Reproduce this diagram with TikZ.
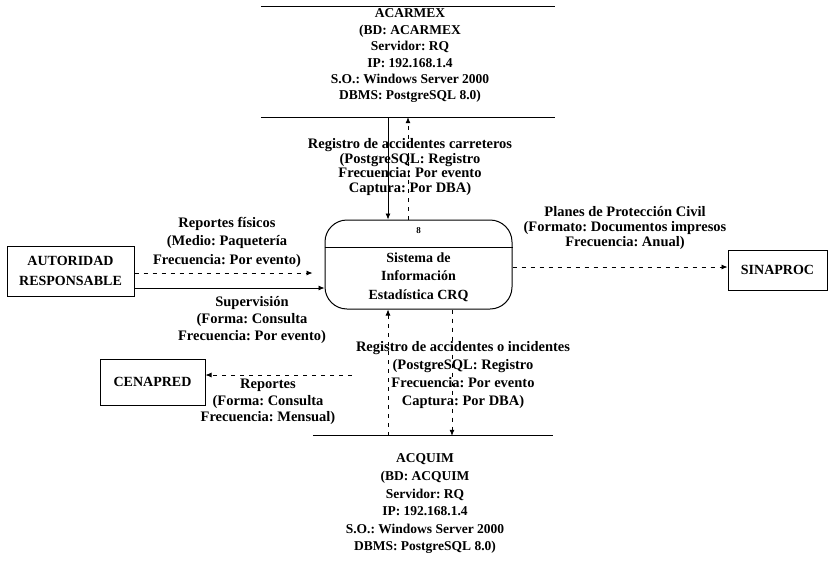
\documentclass[tikz,border=0pt]{standalone}
\usepackage{fontspec}
\setmainfont{Liberation Serif}
\usetikzlibrary{arrows.meta}
\frenchspacing
\begin{document}
\begin{tikzpicture}[x=1pt,y=-1pt,
  lbl/.style={align=center, inner sep=0pt, font=\bfseries\fontsize{14.5}{#1}\selectfont},
  lbl/.default=17,
  storetxt/.style={align=center, inner sep=0pt, font=\bfseries\fontsize{13.5}{#1}\selectfont},
  storetxt/.default=17,
  entity/.style={draw, line width=1pt, align=center, inner sep=0pt,
    font=\bfseries\fontsize{14}{20}\selectfont},
  proc/.style={draw, line width=1pt, rounded corners=22pt, align=center,
    minimum width=187pt, minimum height=89pt, inner sep=0pt,
    font=\bfseries\fontsize{14}{18.5}\selectfont},
  store/.style={inner sep=0pt},
  flow/.style={draw, line width=0.8pt, -{Latex[length=6pt,width=5pt]}},
  dflow/.style={flow, dash pattern=on 4pt off 5pt},
]
\useasboundingbox (0,0) rectangle (829,570);

% process
\node[proc] (proc) at (418.5,264.5)
  {{\fontsize{9}{10}\selectfont 8}\\[10pt]Sistema de\\Información\\Estadística CRQ};
\draw[line width=1pt] ([yshift=-28pt]proc.north west) -- ([yshift=-28pt]proc.north east);

% external entities
\node[entity, minimum width=127pt, minimum height=50pt] (aut) at (70.5,271)
  {AUTORIDAD\\RESPONSABLE};
\node[entity, minimum width=99pt, minimum height=40pt] (sin) at (777.5,270) {SINAPROC};
\node[entity, minimum width=105pt, minimum height=46pt] (cen) at (152.5,382) {CENAPRED};

% data stores
\node[store, minimum width=294pt, minimum height=110pt] (ts) at (408,62) {};
\draw[line width=0.8pt] (ts.north west) -- (ts.north east);
\draw[line width=0.8pt] (ts.south west) -- (ts.south east);
\node[storetxt=16.4] (tstext) at (410,56)
  {ACARMEX\\(BD: ACARMEX\\Servidor: RQ\\IP: 192.168.1.4\\S.O.: Windows Server 2000\\DBMS: PostgreSQL 8.0)};

\node[store, minimum width=240pt, minimum height=136pt] (bs) at (433,504) {};
\draw[line width=0.8pt] (bs.north west) -- (bs.north east);
\node[storetxt=17.6] (bstext) at (425,504)
  {ACQUIM\\(BD: ACQUIM\\Servidor: RQ\\IP: 192.168.1.4\\S.O.: Windows Server 2000\\DBMS: PostgreSQL 8.0)};

% data flows
\draw[flow] ([xshift=-20pt]ts.south) -- ([xshift=-20pt]ts.south |- proc.north);
\draw[dflow] (ts.south |- proc.north) -- (ts.south);
\draw[dflow, shorten >=12pt] ([yshift=-2pt]aut.east) -- ([yshift=-2pt]aut.east -| proc.west);
\draw[flow] ([yshift=-17pt]aut.east) -- ([yshift=-17pt]aut.east -| proc.west);
\draw[dflow] ([yshift=3pt]sin.west -| proc.east) -- ([yshift=3pt]sin.west);
\draw[dflow] ([xshift=19pt]bs.north |- proc.south) -- ([xshift=19pt]bs.north);
\draw[dflow] ([xshift=-45pt]bs.north) -- ([xshift=-45pt]bs.north |- proc.south);
\coordinate (rep) at (352,375);
\draw[dflow] (rep) -- (rep -| cen.east);

% flow labels
\node[lbl=14.8] (l1) at (410,167)
  {Registro de accidentes carreteros\\(PostgreSQL: Registro\\Frecuencia: Por evento\\Captura: Por DBA)};
\node[lbl=18.5] (l2) at (227,242)
  {Reportes físicos\\(Medio: Paquetería\\Frecuencia: Por evento)};
\node[lbl=17] (l3) at (252,320)
  {Supervisión\\(Forma: Consulta\\Frecuencia: Por evento)};
\node[lbl=15.2] (l4) at (625,228)
  {Planes de Protección Civil\\(Formato: Documentos impresos\\Frecuencia: Anual)};
\node[lbl=18] (l5) at (463,375)
  {Registro de accidentes o incidentes\\(PostgreSQL: Registro\\Frecuencia: Por evento\\Captura: Por DBA)};
\node[lbl=16.5] (l6) at (268,402)
  {Reportes\\(Forma: Consulta\\Frecuencia: Mensual)};
\end{tikzpicture}
\end{document}
